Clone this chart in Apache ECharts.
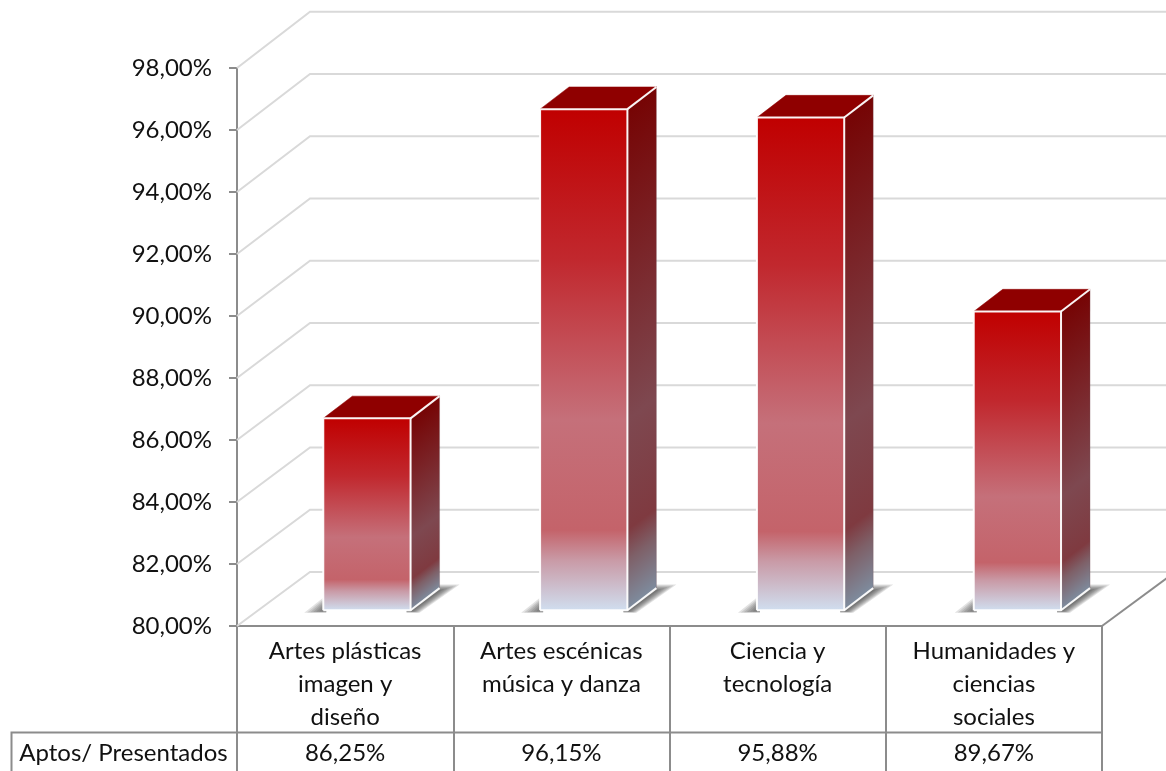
<!DOCTYPE html>
<html><head><meta charset="utf-8">
<style>html,body{margin:0;padding:0;background:#fff}#c{width:1166px;height:771px}</style>
<script src="https://cdn.jsdelivr.net/npm/echarts@6/dist/echarts.min.js"></script></head>
<body><div id="c"></div>
<script>
const categories = ["Artes plásticas\nimagen y\ndiseño","Artes escénicas\nmúsica y danza","Ciencia y\ntecnología","Humanidades y\nciencias\nsociales"];
const values = [86.25, 96.15, 95.88, 89.67];
const rowLabel = "Aptos/ Presentados";
const gridTicks = [80,82,84,86,88,90,92,94,96,98];
const FONT = "Lato";
const FS = 24;
const fmt = v => v.toFixed(2).replace('.', ',') + '%';
const G = echarts.graphic;

const frontStops = [[0,'#C00000'],[0.3,'#C1282E'],[0.62,'#C5707A'],[0.84,'#C4636A'],[0.9,'#C99AA6'],[1,'#D0DEEF']];
const sideStops  = [[0,'#760404'],[0.3,'#7A2428'],[0.62,'#7E4850'],[0.84,'#7F3A40'],[0.9,'#7E6068'],[1,'#7E8C9E']];

function backOffset(v){ return 54 + (v-80)/18*2.3; }

function renderGrid(params, api){
  const v = api.value(0), cs = params.coordSys;
  const y = api.coord([0,v])[1];
  const yb = y - backOffset(v);
  return {type:'polyline', shape:{points:[[cs.x,y],[cs.x+73,yb],[cs.x+cs.width+90,yb]]},
    style:{stroke:'#D9D9D9',lineWidth:2,fill:null}, silent:true};
}
function renderBar(params, api){
  const i = api.value(0), v = api.value(1);
  const c = api.coord([i,v]), base = api.coord([i,80]);
  const w = 87.3, ox = 21.8+0.57*i, oy = 15.7, dx = 29, dy = 22.2;
  const x0 = c[0]+ox-w/2, x1 = x0+w, yt = c[1]-12.45-(v-80)*0.233, yb = base[1]-oy;
  const H = yb-yt, n = Math.hypot(dx,dy), len = H*dx/n;
  const sideGrad = new G.LinearGradient(x1,yt,x1+dy/n*len,yt+dx/n*len,sideStops.map(s=>({offset:s[0],color:s[1]})),true);
  const frontGrad = new G.LinearGradient(0,0,0,1,frontStops.map(s=>({offset:s[0],color:s[1]})));
  const edge = {stroke:'#fff',lineWidth:2,lineJoin:'round',opacity:0.95};
  const shadow = [];
  for (let k=0;k<7;k++){
    const s = {fill:'rgba(50,50,50,0.14)'};
    shadow.push({type:'polygon',shape:{points:[[x0-19+k*3,yb+2.5-k*0.25],[x0+3,yb-15+k*1.6],[x0+3,yb+2.5-k*0.25]]},style:s});
    shadow.push({type:'polygon',shape:{points:[[x1-4,yb+2.5-k*0.25],[x1-4,yb-dy-3.5+k*0.9],[x1+dx+20-k*3,yb-dy-3.5+k*0.9],[x1+9-k*1.2,yb+2.5-k*0.25]]},style:s});
  }
  return {type:'group',silent:true,children:shadow.concat([
    {type:'polygon',shape:{points:[[x0,yt],[x0+dx,yt-dy],[x1+dx,yt-dy],[x1,yt]]},style:{fill:'#8F0000',stroke:'#8F0000',lineWidth:0.5}},
    {type:'polygon',shape:{points:[[x1,yt],[x1+dx,yt-dy],[x1+dx,yb-dy],[x1,yb]]},style:{fill:sideGrad,stroke:'#7A5A60',lineWidth:0.3}},
    {type:'rect',shape:{x:x0,y:yt,width:w,height:H},style:{fill:frontGrad}},
    {type:'polyline',shape:{points:[[x0,yb],[x0,yt],[x1,yt],[x1,yb],[x0,yb]]},style:Object.assign({fill:null},edge)},
    {type:'polyline',shape:{points:[[x1,yt],[x1+dx,yt-dy]]},style:Object.assign({fill:null},edge)},
    {type:'polyline',shape:{points:[[x1,yb],[x1+dx,yb-dy]]},style:Object.assign({fill:null},edge)}
  ])};
}
function renderFloor(params, api){
  const cs = params.coordSys, y = api.coord([0,80])[1];
  return {type:'group',silent:true,children:[
    {type:'line',shape:{x1:cs.x+cs.width,y1:y,x2:cs.x+cs.width+73,y2:y-54},style:{stroke:'#8C8C8C',lineWidth:2}}
  ]};
}
function renderRow(params, api){
  const i = api.value(0), c = api.coord([i,80]);
  return {type:'text',silent:true,style:{text:fmt(api.value(1)),x:c[0],y:753,align:'center',verticalAlign:'middle',font:FS+'px '+FONT,fill:'#111'}};
}

const chart = echarts.init(document.getElementById('c'),null,{renderer:'canvas'});
chart.setOption({
  animation:false,
  backgroundColor:'#fff',
  grid:{left:237,right:64,top:68,height:558,containLabel:false},
  xAxis:{type:'category',data:categories,boundaryGap:true,
    axisLine:{lineStyle:{color:'#8C8C8C',width:2}},
    axisTick:{show:true,length:146,alignWithLabel:false,lineStyle:{color:'#8C8C8C',width:2}},
    axisLabel:{interval:0,margin:9,color:'#111',fontFamily:FONT,fontSize:FS,lineHeight:33,align:'center',verticalAlign:'top'},
    splitLine:{show:false}},
  yAxis:{type:'value',min:80,max:98,interval:2,
    axisLine:{show:true,lineStyle:{color:'#8C8C8C',width:2}},
    axisTick:{show:true,length:8,lineStyle:{color:'#8C8C8C',width:2}},
    axisLabel:{margin:25,color:'#111',fontFamily:FONT,fontSize:FS,formatter:v=>fmt(v)},
    splitLine:{show:false}},
  graphic:[
    {type:'polyline',silent:true,z:10,shape:{points:[[11.5,775],[11.5,732.5],[1102,732.5]]},style:{stroke:'#8C8C8C',lineWidth:2,fill:null}},
    {type:'text',silent:true,z:10,style:{text:rowLabel,x:123.5,y:753,align:'center',verticalAlign:'middle',font:FS+'px '+FONT,fill:'#111'}}
  ],
  series:[
    {type:'custom',z:1,data:gridTicks.map(v=>[v]),encode:{y:0},renderItem:renderGrid,clip:false},
    {type:'custom',z:1,data:[[0]],renderItem:renderFloor,clip:false},
    {type:'custom',z:3,data:values.map((v,i)=>[i,v]),encode:{x:0,y:1},renderItem:renderBar,clip:false},
    {type:'custom',z:3,data:values.map((v,i)=>[i,v]),encode:{x:0,y:1},renderItem:renderRow,clip:false}
  ]
});
</script></body></html>
